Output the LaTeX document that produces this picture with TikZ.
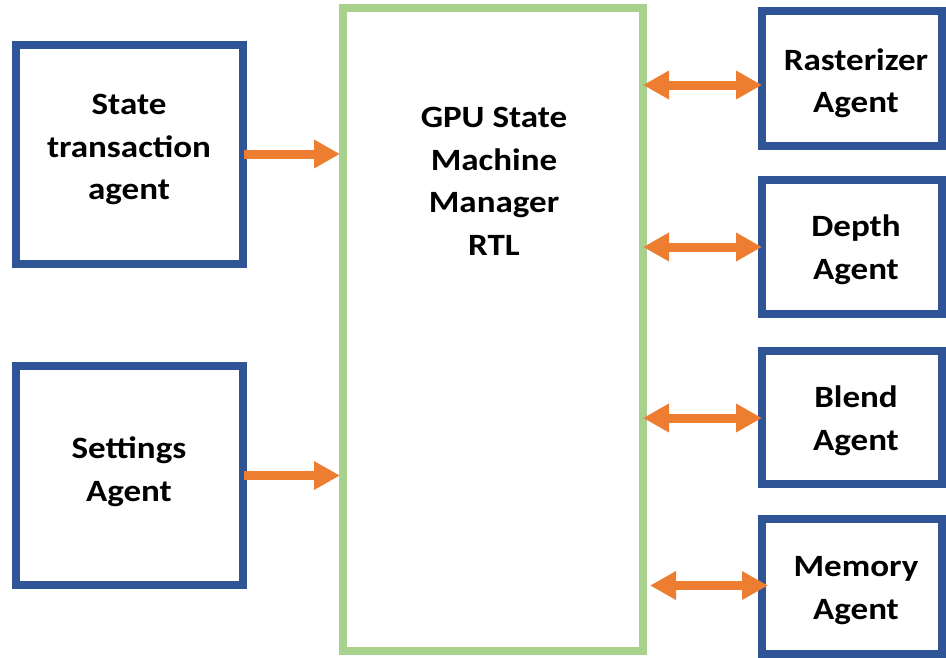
\documentclass[tikz,border=0pt]{standalone}
\usepackage{fontspec}
\setmainfont{Carlito}[FakeStretch=1.13]
\usetikzlibrary{arrows.meta}

\definecolor{agentblue}{HTML}{2F5597}
\definecolor{coregreen}{HTML}{A9D18E}
\definecolor{linkorange}{HTML}{ED7D31}

\tikzset{
  agentbox/.style={draw=agentblue, line width=8pt, rectangle, outer sep=0pt, inner sep=0pt},
  corebox/.style={draw=coregreen, line width=8pt, rectangle, outer sep=0pt, inner sep=0pt},
  boxtext/.style={align=center, inner sep=0pt, font=\fontsize{31}{42.5}\selectfont\bfseries},
  oneway/.style={draw=linkorange, line width=9pt, -{Triangle[length=26pt, width=27pt]}},
  twoway/.style={draw=linkorange, line width=9pt, {Triangle[length=26pt, width=27pt]}-{Triangle[length=26pt, width=27pt]}},
}

\begin{document}
\begin{tikzpicture}[x=1pt, y=-1pt]
  \useasboundingbox (0,0) rectangle (946,657);

  % central manager block
  \node[corebox, minimum width=300pt, minimum height=643pt] (gpu) at (493,329.5) {};
  \node[boxtext] (gpuT) at (494,181.5) {GPU State\\Machine\\Manager\\RTL};

  % input agents on the left
  \node[agentbox, minimum width=227pt, minimum height=219pt] (st) at (129.5,154.5) {};
  \node[boxtext] (stT) at (129,149.5) {State\\transaction\\agent};
  \node[agentbox, minimum width=227pt, minimum height=219pt] (set) at (129.5,475.5) {};
  \node[boxtext] (setT) at (129,471.5) {Settings\\Agent};

  % pipeline agents on the right
  \node[agentbox, minimum width=180pt, minimum height=135pt] (ras) at (852,78.5) {};
  \node[boxtext] (rasT) at (856,83) {Rasterizer\\Agent};
  \node[agentbox, minimum width=180pt, minimum height=134pt] (dep) at (852,247) {};
  \node[boxtext] (depT) at (856,249.5) {Depth\\Agent};
  \node[agentbox, minimum width=180pt, minimum height=133pt] (bld) at (852,417.5) {};
  \node[boxtext] (bldT) at (856,420.5) {Blend\\Agent};
  \node[agentbox, minimum width=180pt, minimum height=135pt] (mem) at (852,586.5) {};
  \node[boxtext] (memT) at (856,590.5) {Memory\\Agent};

  % connectors (canvas y points up, so a positive yshift moves a point upwards)
  \coordinate (stOut) at ([yshift=0.5pt]st.east);
  \coordinate (setOut) at (set.east);
  \draw[oneway, shorten <=1pt, shorten >=3pt] (stOut) -- (gpu.west |- stOut);
  \draw[oneway, shorten <=1pt, shorten >=3pt] (setOut) -- (gpu.west |- setOut);

  \coordinate (rasIn) at ([yshift=-6.5pt]ras.west);
  \coordinate (depIn) at (dep.west);
  \coordinate (bldIn) at ([yshift=-0.5pt]bld.west);
  \coordinate (memIn) at ([yshift=1pt]mem.west);
  \draw[twoway] (gpu.east |- rasIn) -- (rasIn);
  \draw[twoway] (gpu.east |- depIn) -- (depIn);
  \draw[twoway] (gpu.east |- bldIn) -- (bldIn);
  \draw[twoway, shorten <=7pt, shorten >=-6pt] (gpu.east |- memIn) -- (memIn);
\end{tikzpicture}
\end{document}
